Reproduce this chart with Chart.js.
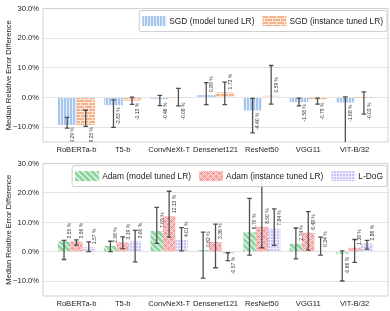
<!DOCTYPE html>
<html>
<head>
<meta charset="utf-8">
<script src="https://cdn.jsdelivr.net/npm/chart.js@4.4.1/dist/chart.umd.min.js"></script>
<style>
  body { margin: 0; background: #fff; }
  .box { position: relative; width: 390px; }
</style>
</head>
<body>
<div class="box" style="height:155px"><canvas id="topChart"></canvas></div>
<div class="box" style="height:156px"><canvas id="bottomChart"></canvas></div>
<script>
var models = ["RoBERTa-b", "T5-b", "ConvNeXt-T", "Densenet121", "ResNet50", "VGG11", "ViT-B/32"];
var yTicks = [-10, 0, 10, 20, 30];

// top panel (SGD)
var sgdModel     = [-9.29, -2.63, -0.46, 0.89, -4.40, -1.58, -1.68];
var sgdModelLow  = [-10.3, -10.1, -2.7, -2.4, -11.9, -2.8, -16.0];
var sgdModelHigh = [-6.7, -0.8, 0.7, 5.0, -0.3, -0.2, 0.2];
var sgdInst      = [-9.25, -1.13, -0.08, 1.73, 0.59, -0.79, -0.03];
var sgdInstLow   = [-9.7, -2.3, -2.8, -2.4, -2.2, -2.2, -5.6];
var sgdInstHigh  = [-4.3, 0.1, 3.1, 5.2, 10.8, -0.2, 1.9];

// bottom panel (Adam / L-DoG)
var adamModel     = [3.55, 2.06, 7.09, 0.62, 6.70, 2.74, -0.66];
var adamModelLow  = [-2.6, 0.1, 2.9, -8.9, -1.1, -2.4, -9.9];
var adamModelHigh = [3.9, 3.6, 15.1, 6.7, 18.2, 8.1, 0.3];
var adamInst      = [3.56, 3.19, 12.13, 3.36, 8.50, 6.48, 1.38];
var adamInstLow   = [2.3, 1.1, 5.0, -5.4, 1.4, 0.6, -3.6];
var adamInstHigh  = [4.1, 5.1, 20.6, 9.4, 25.0, 13.7, 4.2];
var ldog      = [1.57, 3.60, 4.01, -0.57, 7.84, 0.34, 2.86];
var ldogLow   = [0.1, -3.4, 0.3, -3.0, 2.2, -1.1, 0.9];
var ldogHigh  = [3.4, 7.3, 8.2, -0.3, 14.6, 5.0, 3.9];

Chart.defaults.font.family = "'Liberation Sans', Arial, sans-serif";
Chart.defaults.color = "#222";

function makePattern(color, kind) {
  var w = {vline: 3, brick: 8, diag: 6, cross: 6, grid: 3}[kind];
  var h = kind === "brick" ? 6 : w;
  var c = document.createElement("canvas");
  c.width = w; c.height = h;
  var g = c.getContext("2d");
  g.fillStyle = color;
  g.fillRect(0, 0, w, h);
  g.fillStyle = "rgba(255,255,255,0.7)";
  for (var y = 0; y < h; y++) {
    for (var x = 0; x < w; x++) {
      var on = false;
      if (kind === "vline") on = x === 0;
      if (kind === "brick") on = y === 0 || y === 3 || (y < 3 && x === 0) || (y > 3 && x === 4);
      if (kind === "diag") on = (x - y + w) % w === 0 || (x - y + w) % w === 1;
      if (kind === "cross") on = (x - y + w) % w === 0 || (x + y) % w === 0;
      if (kind === "grid") on = x === 0 || y === 0;
      if (on) g.fillRect(x, y, 1, 1);
    }
  }
  return g.createPattern(c, "repeat");
}

function points(arr) {
  return arr.map(function (v, i) { return {x: i, y: v}; });
}

function pct(v) {
  return (v < 0 ? "\u2212" : "") + Math.abs(v).toFixed(1) + "%";
}

var decorations = {
  id: "decorations",
  afterDatasetsDraw: function (chart) {
    var ctx = chart.ctx, a = chart.chartArea, ys = chart.scales.y;
    var zero = ys.getPixelForValue(0);
    ctx.save();
    // frame
    ctx.strokeStyle = "#d2d2d2";
    ctx.lineWidth = 1;
    ctx.strokeRect(a.left, a.top, a.right - a.left, a.bottom - a.top);

    // error bars
    ctx.beginPath();
    ctx.rect(a.left, a.top, a.right - a.left, a.bottom - a.top);
    ctx.clip();
    ctx.strokeStyle = "#4f4f4f";
    ctx.lineWidth = 1.3;
    chart.data.datasets.forEach(function (ds, di) {
      var meta = chart.getDatasetMeta(di);
      meta.data.forEach(function (bar, i) {
        var y1 = ys.getPixelForValue(ds.low[i]), y2 = ys.getPixelForValue(ds.high[i]);
        ctx.beginPath();
        ctx.moveTo(bar.x, y1); ctx.lineTo(bar.x, y2);
        ctx.moveTo(bar.x - 2.3, y1); ctx.lineTo(bar.x + 2.3, y1);
        ctx.moveTo(bar.x - 2.3, y2); ctx.lineTo(bar.x + 2.3, y2);
        ctx.stroke();
      });
    });

    // value labels
    ctx.fillStyle = "#333";
    ctx.font = "5px 'Liberation Sans', Arial, sans-serif";
    ctx.textBaseline = "middle";
    chart.data.datasets.forEach(function (ds, di) {
      var meta = chart.getDatasetMeta(di);
      meta.data.forEach(function (bar, i) {
        var v = ds.data[i].y;
        var txt = v.toFixed(2) + " %";
        var y;
        ctx.save();
        if (v >= 0) {
          y = Math.min(bar.y - 3, zero - 5);
          ctx.translate(bar.x + 5.5, y);
          ctx.rotate(-Math.PI / 2);
          ctx.textAlign = "left";
        } else {
          y = Math.max(bar.y + 2, zero + 5);
          ctx.translate(bar.x + 5.5, y);
          ctx.rotate(-Math.PI / 2);
          ctx.textAlign = "right";
        }
        ctx.fillText(txt, 0, 0);
        ctx.restore();
      });
    });
    ctx.restore();

    // legend
    ctx.save();
    ctx.font = "8.4px 'Liberation Sans', Arial, sans-serif";
    var items = chart.data.datasets;
    var total = 3;
    items.forEach(function (ds) { total += 27 + ctx.measureText(ds.label).width + 8; });
    total = total - 8 + 4;
    var bx = a.right - 1 - total, by = a.top + 2, bh = 21;
    ctx.fillStyle = "rgba(255,255,255,0.85)";
    ctx.strokeStyle = "#cccccc";
    ctx.lineWidth = 1;
    ctx.beginPath();
    ctx.roundRect(bx, by, total, bh, 2);
    ctx.fill(); ctx.stroke();
    var x = bx + 3;
    ctx.textBaseline = "middle";
    ctx.textAlign = "left";
    items.forEach(function (ds) {
      ctx.fillStyle = ds.backgroundColor;
      ctx.fillRect(x, by + 5.5, 24, 10);
      ctx.fillStyle = "#222";
      ctx.fillText(ds.label, x + 27, by + bh / 2 + 0.5);
      x += 27 + ctx.measureText(ds.label).width + 8;
    });
    ctx.restore();
  }
};

function buildChart(id, datasets, padTop, axisH) {
  return new Chart(document.getElementById(id), {
    type: "bar",
    data: {datasets: datasets},
    options: {
      responsive: true,
      maintainAspectRatio: false,
      animation: false,
      layout: {padding: {top: padTop, right: 2, left: 0, bottom: 0}},
      datasets: {bar: {categoryPercentage: 0.8, barPercentage: 1.0}},
      plugins: {legend: {display: false}, tooltip: {enabled: false}},
      scales: {
        x: {
          type: "linear", min: -0.72, max: 6.72, offset: false,
          grid: {display: false, drawTicks: false},
          border: {display: false},
          afterBuildTicks: function (s) { s.ticks = models.map(function (m, i) { return {value: i}; }); },
          afterFit: function (s) { s.height = axisH; },
          ticks: {
            autoSkip: false, maxRotation: 0, padding: 3, color: "#222",
            font: {size: 7.6},
            callback: function (v) { return models[v]; }
          }
        },
        y: {
          min: -15, max: 30,
          grid: {color: "#e4e4e4", drawTicks: false},
          border: {display: false},
          afterBuildTicks: function (s) { s.ticks = yTicks.map(function (v) { return {value: v}; }); },
          afterFit: function (s) { s.width = 43; },
          ticks: {padding: 4, color: "#222", font: {size: 7.6}, callback: function (v) { return pct(v); }},
          title: {
            display: true, text: "Median Relative Error Difference", color: "#222",
            font: {size: 7.6}, padding: {top: 4, bottom: 0}
          }
        }
      }
    },
    plugins: [decorations]
  });
}

var blue = makePattern("#a7c6ed", "vline");
var orange = makePattern("#f3b38a", "brick");
var green = makePattern("#90d6a2", "diag");
var pink = makePattern("#f4a6a6", "cross");
var purple = makePattern("#c9c3f5", "grid");

buildChart("topChart", [
  {label: "SGD (model tuned LR)", data: points(sgdModel), low: sgdModelLow, high: sgdModelHigh, backgroundColor: blue},
  {label: "SGD (instance tuned LR)", data: points(sgdInst), low: sgdInstLow, high: sgdInstHigh, backgroundColor: orange}
], 6, 13);

buildChart("bottomChart", [
  {label: "Adam (model tuned LR)", data: points(adamModel), low: adamModelLow, high: adamModelHigh, backgroundColor: green},
  {label: "Adam (instance tuned LR)", data: points(adamInst), low: adamInstLow, high: adamInstHigh, backgroundColor: pink},
  {label: "L-DoG", data: points(ldog), low: ldogLow, high: ldogHigh, backgroundColor: purple}
], 7, 15);
</script>
</body>
</html>
